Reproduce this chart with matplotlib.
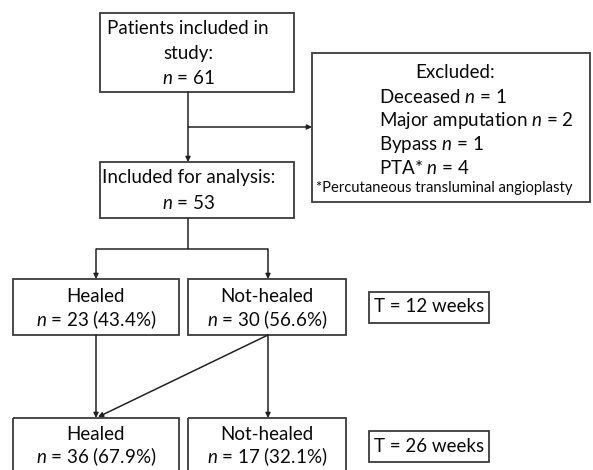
import matplotlib
matplotlib.use("Agg")
import matplotlib.pyplot as plt
from matplotlib.patches import Rectangle

plt.rcParams['font.family'] = ['Lato', 'DejaVu Sans']
plt.rcParams['mathtext.fontset'] = 'custom'
plt.rcParams['mathtext.rm'] = 'Lato'
plt.rcParams['mathtext.it'] = 'Lato:italic'

# ---- data ----
n_included = 61
n_analysis = 53
excluded_labels = ["Deceased", "Major amputation", "Bypass", "PTA*"]
excluded_counts = [1, 2, 1, 4]
footnote = "*Percutaneous transluminal angioplasty"
outcome_labels = ["Healed", "Not-healed"]
counts_12w = [23, 30]
pct_12w = [43.4, 56.6]
counts_26w = [36, 17]
pct_26w = [67.9, 32.1]
timepoints = ["T = 12 weeks", "T = 26 weeks"]

W, H = 593, 470
fig = plt.figure(figsize=(W / 100, H / 100), dpi=100)
ax = fig.add_axes([0, 0, 1, 1])
ax.set_xlim(0, W)
ax.set_ylim(H, 0)
ax.axis('off')

EC = '#3a3a3a'
FS = 13.5
LW = 1.1

def box(x0, y0, x1, y1):
    ax.add_patch(Rectangle((x0, y0), x1 - x0, y1 - y0, fill=False,
                           edgecolor=EC, linewidth=1.3))

def txt(x, y, s, fs=FS, ha='center'):
    ax.text(x, y, s, fontsize=fs, ha=ha, va='center', color='#0a0a0a')

def line(xs, ys):
    ax.plot(xs, ys, color='#222222', lw=LW, solid_capstyle='butt')

def arrow(x0, y0, x1, y1):
    ax.annotate('', xy=(x1, y1), xytext=(x0, y0),
                arrowprops=dict(arrowstyle='-|>', color='#222222', lw=LW,
                                mutation_scale=7, shrinkA=0, shrinkB=0))

# Box 1
box(100, 13, 294, 92)
txt(188, 29, "Patients included in")
txt(188, 54, "study:")
txt(188, 78, f"$n$ = {n_included}")

# Excluded box
box(312, 53, 590, 202)
txt(455, 73, "Excluded:")
for i, (lab, c) in enumerate(zip(excluded_labels, excluded_counts)):
    txt(379, 97 + i * 23.7, f"{lab} $n$ = {c}", ha='left')
txt(444, 188, footnote, fs=10.6)

# Box 2
box(100, 162, 294, 218)
txt(189, 178, "Included for analysis:")
txt(189, 203, f"$n$ = {n_analysis}")

# connectors top
arrow(188, 92, 188, 162)
arrow(188, 127, 312, 127)
line([188, 188], [218, 249])
line([96, 268], [249, 249])
arrow(96, 249, 96, 279)
arrow(268, 249, 268, 279)

# 12-week row
box_x = [(13, 179), (188, 346)]
for (x0, x1), lab, c, p in zip(box_x, outcome_labels, counts_12w, pct_12w):
    box(x0, 279, x1, 335)
    cx = (x0 + x1) / 2
    txt(cx, 297, lab)
    txt(cx, 320, f"$n$ = {c} ({p}%)")
box(369, 292, 489, 323)
txt(429, 307, timepoints[0])

# connectors to 26 weeks
arrow(96, 335, 96, 418)
arrow(268, 335, 98, 417)
arrow(268, 335, 268, 418)

# 26-week row
for (x0, x1), lab, c, p in zip(box_x, outcome_labels, counts_26w, pct_26w):
    box(x0, 418, x1, 476)
    cx = (x0 + x1) / 2
    txt(cx, 435, lab)
    txt(cx, 457, f"$n$ = {c} ({p}%)")
box(369, 431, 489, 462)
txt(429, 446, timepoints[1])

fig.savefig("out.png", dpi=100, facecolor='white')
